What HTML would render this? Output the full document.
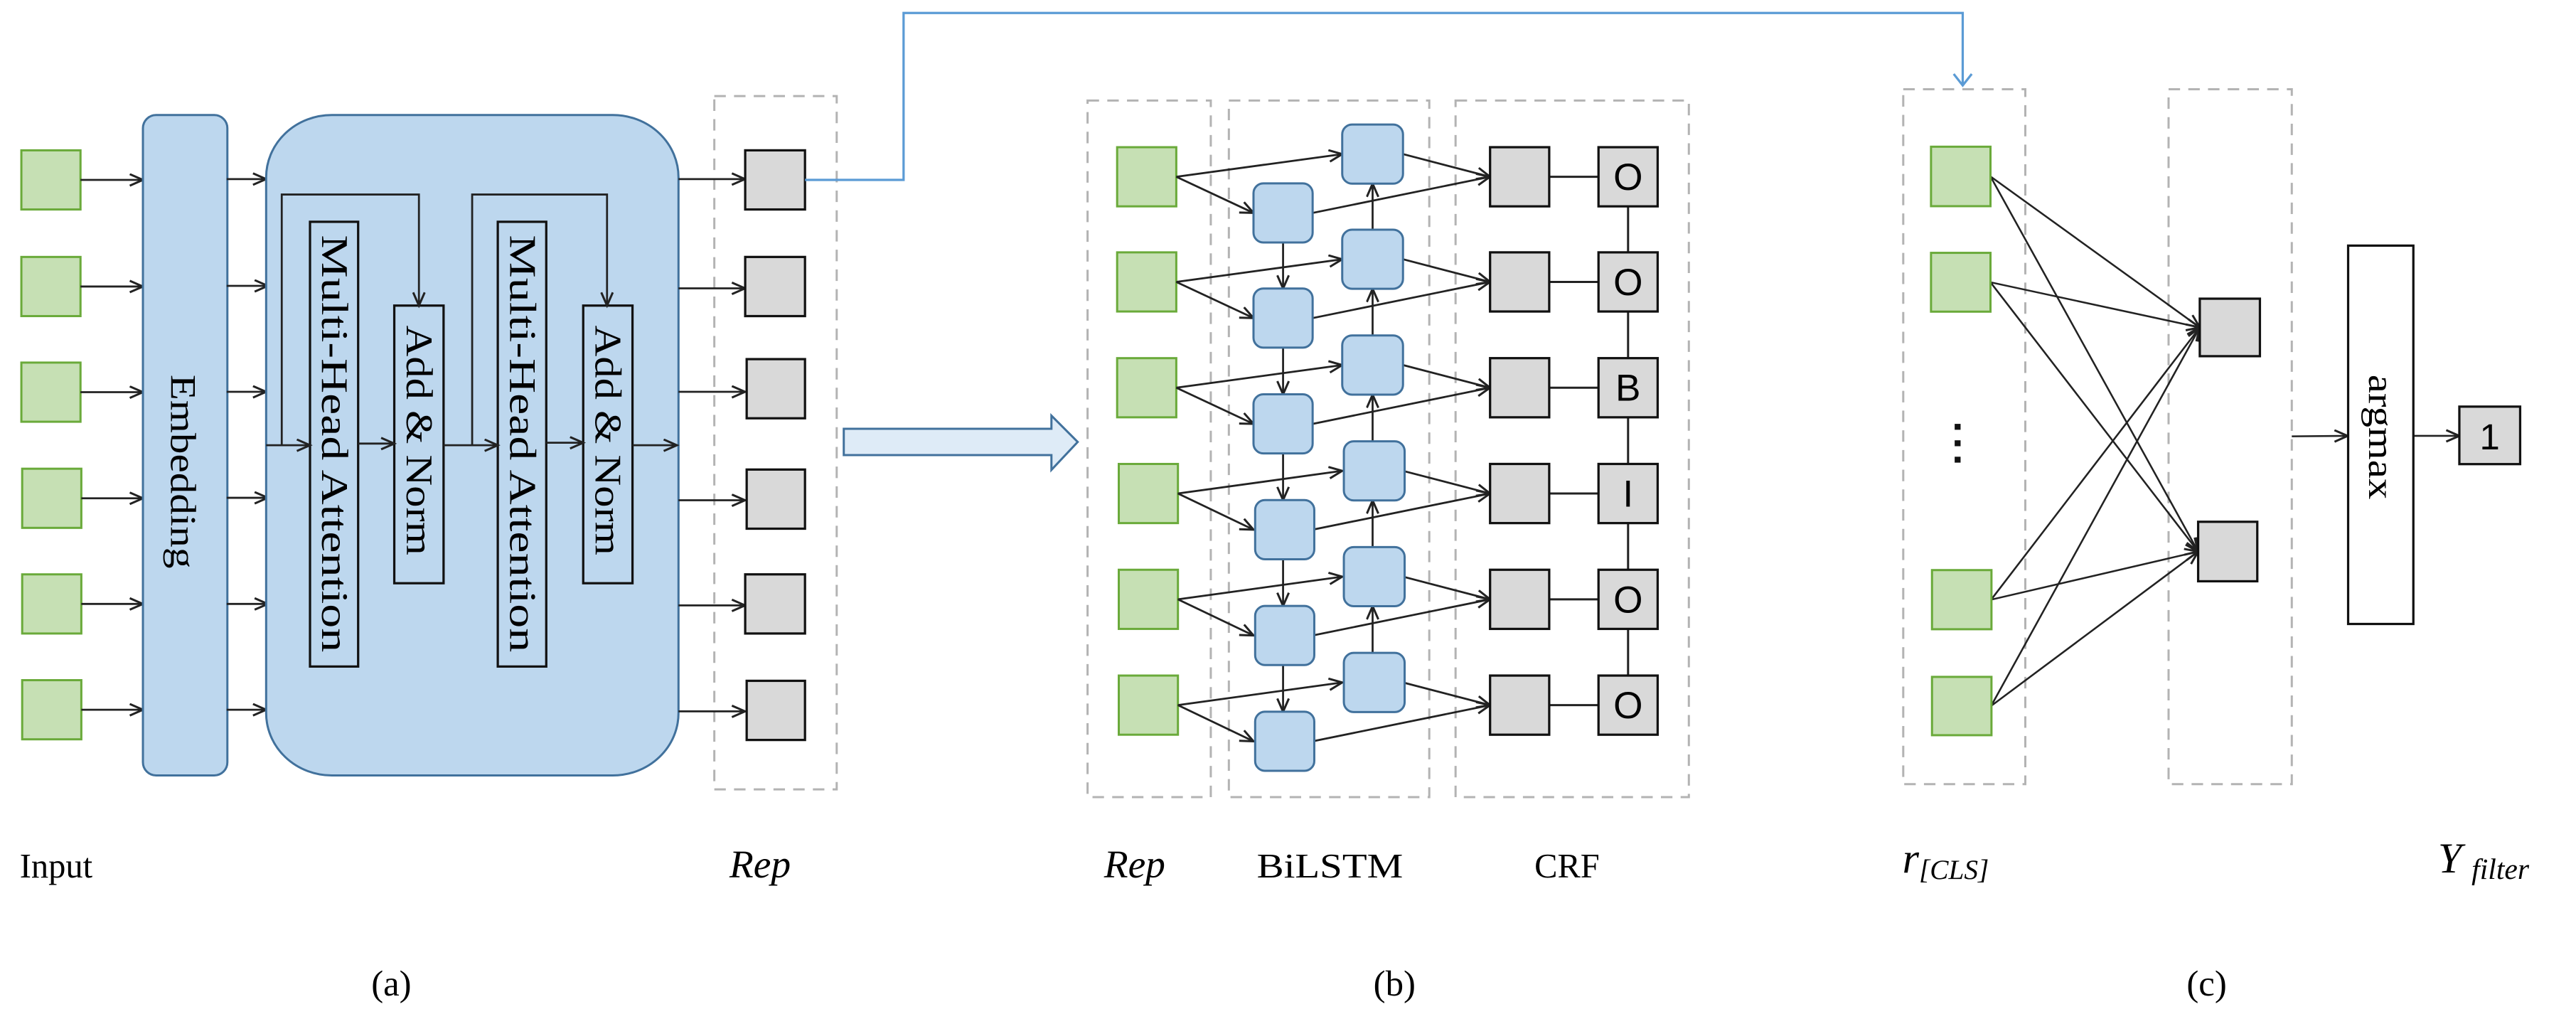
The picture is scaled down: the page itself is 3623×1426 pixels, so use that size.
<!DOCTYPE html>
<html><head><meta charset="utf-8"><style>
html,body{margin:0;padding:0;background:#fff;}
svg{display:block;}
</style></head><body>
<svg width="3623" height="1426" viewBox="0 0 1568 617.2" preserveAspectRatio="none" xmlns="http://www.w3.org/2000/svg">
<defs>
<marker id="ar" markerUnits="userSpaceOnUse" markerWidth="12" markerHeight="10" refX="9" refY="4" orient="auto">
<path d="M1,0.5 L9,4 L1,7.5" fill="none" stroke="#222" stroke-width="1.3"/>
</marker>
<marker id="ab" markerUnits="userSpaceOnUse" markerWidth="14" markerHeight="12" refX="6" refY="10" orient="0">
<path d="M0.5,3 L6,10 L11.5,3" fill="none" stroke="#5b9bd5" stroke-width="1.4"/>
</marker>
</defs>
<g font-family="Liberation Serif, serif" fill="#000">
<!-- (a) -->
<g fill="#c6e0b4" stroke="#6aaa3a" stroke-width="1.3">
<rect x="13" y="91.5" width="36" height="36"/>
<rect x="13" y="156.4" width="36" height="36"/>
<rect x="13" y="220.7" width="36" height="36"/>
<rect x="13.5" y="285.3" width="36" height="36"/>
<rect x="13.5" y="349.6" width="36" height="36"/>
<rect x="13.5" y="414" width="36" height="36"/>
</g>
<g stroke="#222" stroke-width="1.2" marker-end="url(#ar)">
<line x1="49" y1="109.5" x2="87" y2="109.5"/>
<line x1="49" y1="174.4" x2="87" y2="174.4"/>
<line x1="49" y1="238.7" x2="87" y2="238.7"/>
<line x1="49.5" y1="303.3" x2="87" y2="303.3"/>
<line x1="49.5" y1="367.6" x2="87" y2="367.6"/>
<line x1="49.5" y1="432" x2="87" y2="432"/>
</g>
<rect x="87" y="70" width="51.4" height="402" rx="8" fill="#bdd7ee" stroke="#41719c" stroke-width="1.3"/>
<text transform="translate(104,228) rotate(90)" font-size="22" textLength="118" lengthAdjust="spacingAndGlyphs">Embedding</text>
<g stroke="#222" stroke-width="1.2" marker-end="url(#ar)">
<line x1="138" y1="109" x2="162" y2="109"/>
<line x1="138" y1="174" x2="163" y2="174"/>
<line x1="138" y1="238.5" x2="162" y2="238.5"/>
<line x1="138" y1="303" x2="163" y2="303"/>
<line x1="138" y1="367.6" x2="163" y2="367.6"/>
<line x1="138" y1="432" x2="162" y2="432"/>
</g>
<rect x="162" y="70" width="251" height="402" rx="40" ry="38" fill="#bdd7ee" stroke="#41719c" stroke-width="1.3"/>
<g fill="none" stroke="#111" stroke-width="1.4">
<rect x="188.7" y="135" width="29.3" height="270.7"/>
<rect x="240" y="186" width="30" height="169"/>
<rect x="303" y="135" width="29.5" height="270.7"/>
<rect x="355" y="186" width="30" height="169"/>
</g>
<text transform="translate(196,143) rotate(90)" font-size="23" textLength="254" lengthAdjust="spacingAndGlyphs">Multi-Head Attention</text>
<text transform="translate(247.5,198) rotate(90)" font-size="23" textLength="140" lengthAdjust="spacingAndGlyphs">Add &amp; Norm</text>
<text transform="translate(310.5,143) rotate(90)" font-size="23" textLength="254" lengthAdjust="spacingAndGlyphs">Multi-Head Attention</text>
<text transform="translate(362.5,198) rotate(90)" font-size="23" textLength="140" lengthAdjust="spacingAndGlyphs">Add &amp; Norm</text>
<g stroke="#222" stroke-width="1.2" fill="none">
<polyline points="171.5,271 171.5,118.4 255,118.4 255,186" marker-end="url(#ar)"/>
<polyline points="287.4,271 287.4,118.4 369.5,118.4 369.5,186" marker-end="url(#ar)"/>
<line x1="162" y1="271" x2="188.7" y2="271" marker-end="url(#ar)"/>
<line x1="218" y1="270" x2="240" y2="270" marker-end="url(#ar)"/>
<line x1="270" y1="271" x2="303" y2="271" marker-end="url(#ar)"/>
<line x1="332.5" y1="269.5" x2="355" y2="269.5" marker-end="url(#ar)"/>
<line x1="385" y1="271" x2="412" y2="271" marker-end="url(#ar)"/>
</g>
<rect x="434.8" y="58.5" width="74.5" height="422" fill="none" stroke="#b3b3b3" stroke-width="1.3" stroke-dasharray="7,5"/>
<g stroke="#222" stroke-width="1.2" marker-end="url(#ar)">
<line x1="413" y1="109" x2="453.5" y2="109"/>
<line x1="413" y1="175.5" x2="453.5" y2="175.5"/>
<line x1="413" y1="238.5" x2="453.5" y2="238.5"/>
<line x1="413" y1="304.5" x2="453.5" y2="304.5"/>
<line x1="413" y1="368.5" x2="453.5" y2="368.5"/>
<line x1="413" y1="433" x2="453.5" y2="433"/>
</g>
<g fill="#d9d9d9" stroke="#111" stroke-width="1.4">
<rect x="453.6" y="91.5" width="36.4" height="36"/>
<rect x="453.6" y="156.4" width="36.4" height="36"/>
<rect x="454.5" y="218.6" width="35.5" height="36"/>
<rect x="454.5" y="285.8" width="35.5" height="36"/>
<rect x="453.6" y="349.6" width="36.4" height="36"/>
<rect x="454.5" y="414.4" width="35.5" height="36"/>
</g>
<polyline points="490,109.5 550,109.5 550,7.9 1194.7,7.9 1194.7,52" fill="none" stroke="#5b9bd5" stroke-width="1.4" marker-end="url(#ab)"/>
<text x="12" y="534" font-size="21">Input</text>
<text x="444" y="534" font-size="24" font-style="italic">Rep</text>
<text x="226" y="606" font-size="22">(a)</text>
<!-- hollow arrow -->
<path d="M513.6,261 L640,261 L640,253 L656,269 L640,286 L640,277 L513.6,277 Z" fill="#deebf7" stroke="#41719c" stroke-width="1.3"/>
<!-- (b) -->
<g fill="none" stroke="#b3b3b3" stroke-width="1.3" stroke-dasharray="7,5">
<rect x="662" y="61.2" width="75" height="424"/>
<rect x="748" y="61.2" width="122" height="424"/>
<rect x="886" y="61.2" width="142" height="424"/>
</g>
<g fill="#c6e0b4" stroke="#6aaa3a" stroke-width="1.3">
<rect x="680" y="89.6" width="36" height="36"/>
<rect x="680" y="153.6" width="36" height="36"/>
<rect x="680" y="218" width="36" height="36"/>
<rect x="681" y="282.4" width="36" height="36"/>
<rect x="681" y="346.8" width="36" height="36"/>
<rect x="681" y="411.2" width="36" height="36"/>
</g>
<g stroke="#222" stroke-width="1.2" fill="none" marker-end="url(#ar)">
<line x1="716" y1="107.6" x2="817" y2="93.8"/><line x1="716" y1="107.6" x2="763" y2="129.6"/>
<line x1="854" y1="93.8" x2="907" y2="107.6"/><line x1="799" y1="129.6" x2="907" y2="107.6"/>
<line x1="716" y1="171.6" x2="817" y2="157.8"/><line x1="716" y1="171.6" x2="763" y2="193.6"/>
<line x1="854" y1="157.8" x2="907" y2="171.6"/><line x1="799" y1="193.6" x2="907" y2="171.6"/>
<line x1="716" y1="236" x2="817" y2="222.2"/><line x1="716" y1="236" x2="763" y2="258"/>
<line x1="854" y1="222.2" x2="907" y2="236"/><line x1="799" y1="258" x2="907" y2="236"/>
<line x1="717" y1="300.4" x2="817" y2="286.6"/><line x1="717" y1="300.4" x2="763" y2="322.4"/>
<line x1="854" y1="286.6" x2="907" y2="300.4"/><line x1="799" y1="322.4" x2="907" y2="300.4"/>
<line x1="717" y1="364.8" x2="817" y2="351"/><line x1="717" y1="364.8" x2="763" y2="386.8"/>
<line x1="854" y1="351" x2="907" y2="364.8"/><line x1="799" y1="386.8" x2="907" y2="364.8"/>
<line x1="717" y1="429.2" x2="817" y2="415.4"/><line x1="717" y1="429.2" x2="763" y2="451.2"/>
<line x1="854" y1="415.4" x2="907" y2="429.2"/><line x1="799" y1="451.2" x2="907" y2="429.2"/>
<line x1="781" y1="147.6" x2="781" y2="175.6"/>
<line x1="781" y1="211.6" x2="781" y2="240"/>
<line x1="781" y1="276" x2="781" y2="304.4"/>
<line x1="781" y1="340.4" x2="781" y2="368.8"/>
<line x1="781" y1="404.8" x2="781" y2="433.2"/>
<line x1="835.5" y1="139.8" x2="835.5" y2="111.8"/>
<line x1="835.5" y1="204.2" x2="835.5" y2="175.8"/>
<line x1="835.5" y1="268.6" x2="835.5" y2="240.2"/>
<line x1="835.5" y1="333" x2="835.5" y2="304.6"/>
<line x1="835.5" y1="397.4" x2="835.5" y2="369"/>
</g>
<g fill="#bdd7ee" stroke="#41719c" stroke-width="1.3">
<rect x="763" y="111.6" width="36" height="36" rx="6"/>
<rect x="763" y="175.6" width="36" height="36" rx="6"/>
<rect x="763" y="240" width="36" height="36" rx="6"/>
<rect x="764" y="304.4" width="36" height="36" rx="6"/>
<rect x="764" y="368.8" width="36" height="36" rx="6"/>
<rect x="764" y="433.2" width="36" height="36" rx="6"/>
<rect x="817" y="75.8" width="37" height="36" rx="6"/>
<rect x="817" y="139.8" width="37" height="36" rx="6"/>
<rect x="817" y="204.2" width="37" height="36" rx="6"/>
<rect x="818" y="268.6" width="37" height="36" rx="6"/>
<rect x="818" y="333" width="37" height="36" rx="6"/>
<rect x="818" y="397.4" width="37" height="36" rx="6"/>
</g>
<line x1="991" y1="107.6" x2="991" y2="429.2" stroke="#222" stroke-width="1.3"/>
<g stroke="#222" stroke-width="1.3">
<line x1="943" y1="107.6" x2="973" y2="107.6"/>
<line x1="943" y1="171.6" x2="973" y2="171.6"/>
<line x1="943" y1="236" x2="973" y2="236"/>
<line x1="943" y1="300.4" x2="973" y2="300.4"/>
<line x1="943" y1="364.8" x2="973" y2="364.8"/>
<line x1="943" y1="429.2" x2="973" y2="429.2"/>
</g>
<g fill="#d9d9d9" stroke="#111" stroke-width="1.4">
<rect x="907" y="89.6" width="36" height="36"/><rect x="973" y="89.6" width="36" height="36"/>
<rect x="907" y="153.6" width="36" height="36"/><rect x="973" y="153.6" width="36" height="36"/>
<rect x="907" y="218" width="36" height="36"/><rect x="973" y="218" width="36" height="36"/>
<rect x="907" y="282.4" width="36" height="36"/><rect x="973" y="282.4" width="36" height="36"/>
<rect x="907" y="346.8" width="36" height="36"/><rect x="973" y="346.8" width="36" height="36"/>
<rect x="907" y="411.2" width="36" height="36"/><rect x="973" y="411.2" width="36" height="36"/>
</g>
<g font-family="Liberation Sans, sans-serif" font-size="23" text-anchor="middle">
<text x="991" y="115.6">O</text>
<text x="991" y="179.6">O</text>
<text x="991" y="244">B</text>
<text x="991" y="308.4">I</text>
<text x="991" y="372.8">O</text>
<text x="991" y="437.2">O</text>
</g>
<text x="672" y="534" font-size="24" font-style="italic">Rep</text>
<text x="765" y="534" font-size="21" textLength="89" lengthAdjust="spacingAndGlyphs">BiLSTM</text>
<text x="934" y="534" font-size="21">CRF</text>
<text x="836" y="606" font-size="22">(b)</text>
<!-- (c) -->
<g fill="none" stroke="#b3b3b3" stroke-width="1.3" stroke-dasharray="7,5">
<rect x="1158.5" y="54.3" width="74.3" height="423"/>
<rect x="1320" y="54.3" width="75" height="423"/>
</g>
<g stroke="#222" stroke-width="1.1" fill="none" marker-end="url(#ar)">
<line x1="1211.6" y1="107.4" x2="1339" y2="199.3"/>
<line x1="1211.6" y1="107.4" x2="1338" y2="335.7"/>
<line x1="1211.6" y1="171.8" x2="1339" y2="199.3"/>
<line x1="1211.6" y1="171.8" x2="1338" y2="335.7"/>
<line x1="1212" y1="365" x2="1339" y2="199.3"/>
<line x1="1212" y1="365" x2="1338" y2="335.7"/>
<line x1="1212" y1="429.7" x2="1339" y2="199.3"/>
<line x1="1212" y1="429.7" x2="1338" y2="335.7"/>
<line x1="1395" y1="265.6" x2="1429" y2="265.3"/>
<line x1="1469" y1="265.3" x2="1497" y2="265.3"/>
</g>
<g fill="#c6e0b4" stroke="#6aaa3a" stroke-width="1.3">
<rect x="1175.4" y="89.3" width="36.2" height="36.2"/>
<rect x="1175.4" y="153.9" width="36.2" height="35.8"/>
<rect x="1176" y="347" width="36.2" height="36"/>
<rect x="1176" y="412" width="36.2" height="35.5"/>
</g>
<g fill="#111">
<rect x="1189.8" y="258" width="3.6" height="3.6"/>
<rect x="1189.8" y="268" width="3.6" height="3.6"/>
<rect x="1189.8" y="278" width="3.6" height="3.6"/>
</g>
<g fill="#d9d9d9" stroke="#111" stroke-width="1.4">
<rect x="1339" y="181.8" width="36.6" height="35"/>
<rect x="1338" y="317.6" width="36" height="36.2"/>
<rect x="1497" y="247.5" width="37" height="35"/>
</g>
<rect x="1429.3" y="149.5" width="39.7" height="230.3" fill="#fff" stroke="#111" stroke-width="1.4"/>
<text transform="translate(1442,228) rotate(90)" font-size="22" textLength="76" lengthAdjust="spacingAndGlyphs">argmax</text>
<text x="1515.5" y="273.5" font-family="Liberation Sans, sans-serif" font-size="22" text-anchor="middle">1</text>
<text x="1158" y="531" font-size="26" font-style="italic">r<tspan font-size="17" dy="4">[CLS]</tspan></text>
<text x="1484" y="531" font-size="26" font-style="italic">Y<tspan font-size="18" dx="6" dy="4">filter</tspan></text>
<text x="1331" y="606" font-size="22">(c)</text>
</g>
</svg>
</body></html>
